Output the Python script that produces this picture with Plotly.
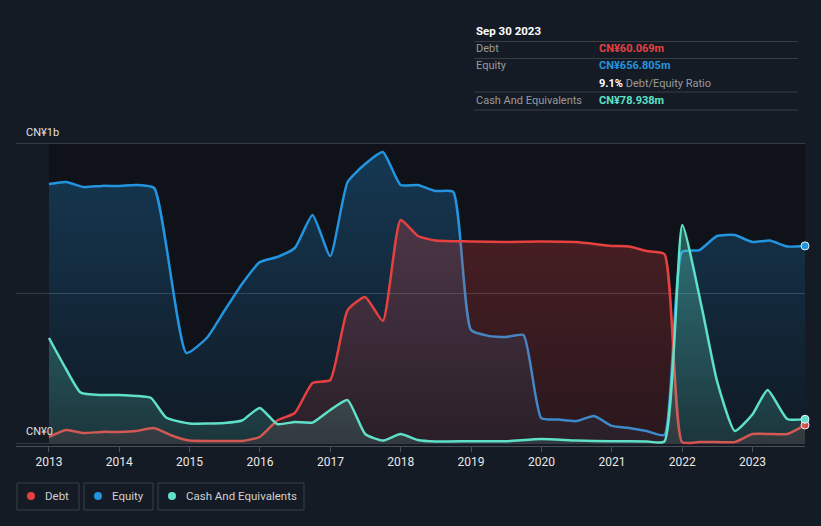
import plotly.graph_objects as go

# ---- data (values in CN¥ millions) ----
equity_dates = ["2013-01-01","2013-03-31","2013-06-30","2013-09-30","2013-12-31","2014-03-31","2014-07-01",
                "2014-12-15","2015-03-31","2015-06-30","2015-09-30","2015-12-31",
                "2016-03-31","2016-06-30","2016-09-30","2016-12-31","2017-03-31","2017-06-30","2017-09-30",
                "2017-12-31","2018-03-31","2018-06-30","2018-09-30","2018-12-31","2019-03-31","2019-06-30",
                "2019-09-30","2019-12-31","2020-03-31","2020-06-30","2020-09-30","2020-12-31","2021-03-31",
                "2021-06-30","2021-09-30","2021-12-31","2022-03-31","2022-06-30","2022-09-30","2022-12-31",
                "2023-03-31","2023-06-30","2023-09-30"]
equity_values = [863, 870, 853, 857, 857, 860, 850,
                 300, 350, 440, 530, 603,
                 620, 650, 760, 623, 870, 930, 970,
                 860, 860, 840, 837, 377, 357, 353,
                 360, 83, 78, 73, 90, 57, 50,
                 40, 27, 637, 643, 690, 693, 670,
                 675, 655, 657]

debt_dates = ["2013-01-01","2013-03-31","2013-06-30","2013-09-30","2013-12-31","2014-03-31","2014-06-30",
              "2014-09-30","2014-12-31","2015-06-30","2015-09-30","2015-12-31","2016-03-31","2016-06-30",
              "2016-09-30","2016-12-31","2017-03-31","2017-06-30","2017-09-30","2017-12-31","2018-03-31",
              "2018-06-30","2018-12-31","2019-06-30","2019-12-31","2020-06-30","2020-12-31","2021-03-31",
              "2021-06-30","2021-09-30","2021-12-31","2022-03-31","2022-06-30","2022-09-30","2022-12-31",
              "2023-03-31","2023-06-30","2023-09-30"]
debt_values = [20, 43, 33, 37, 37, 40, 50,
               25, 8, 7, 7, 20, 75, 100,
               200, 210, 443, 487, 407, 743, 690,
               675, 672, 670, 672, 670, 657, 655,
               640, 630, 3, 3, 3, 3, 30,
               30, 30, 60]

cash_dates = ["2013-01-01","2013-04-01","2013-06-15","2013-09-30","2013-12-31","2014-03-31","2014-06-15",
              "2014-09-01","2014-12-31","2015-06-30","2015-09-30","2015-12-31","2016-03-31","2016-06-30",
              "2016-09-30","2016-12-31","2017-03-31","2017-06-30","2017-09-30","2017-12-31","2018-03-31",
              "2018-06-30","2018-12-31","2019-06-30","2019-12-31","2020-06-30","2020-12-31","2021-06-30",
              "2021-09-30","2022-01-01","2022-04-15","2022-07-01","2022-10-01","2022-12-31","2023-03-20",
              "2023-06-30","2023-09-30"]
cash_values = [350, 245, 168, 160, 160, 157, 150,
               85, 65, 67, 75, 117, 63, 70,
               68, 110, 143, 30, 8, 30, 10,
               5, 6, 6, 13, 8, 6, 5,
               5, 727, 443, 205, 40, 95, 177,
               80, 79]

x_ticks = ["2013","2014","2015","2016","2017","2018","2019","2020","2021","2022","2023"]

# ---- styling ----
BG = "#151b25"
PLOT = "#0f1218"
RED = "#e64141"
BLUE = "#2394df"
TEAL = "#5fe0c8"

W, H = 821, 526
ML, MR, MT, MB = 16, 16, 140, 80
PW, PH = W - ML - MR, H - MT - MB

def px(x):
    return (x - ML) / PW

def py(y):
    return (H - MB - y) / PH

fig = go.Figure()

fig.add_shape(type="rect", xref="x", yref="y", x0="2013-01-01", x1="2023-09-30", y0=0, y1=1000,
              fillcolor=PLOT, line_width=0, layer="below")

def area(dates, vals, color, rgb, a0, a1, name, lw=2.5):
    fig.add_trace(go.Scatter(
        x=dates, y=vals, name=name, mode="lines",
        line=dict(color=color, width=lw, shape="spline", smoothing=0.5),
        fill="tozeroy",
        fillgradient=dict(type="vertical", start=0, stop=1000,
                          colorscale=[[0, f"rgba({rgb},{a0})"], [1, f"rgba({rgb},{a1})"]]),
        hoverinfo="skip", showlegend=False))
    fig.add_trace(go.Scatter(
        x=[dates[-1]], y=[vals[-1]], mode="markers",
        marker=dict(color=color, size=8, line=dict(color="#e8f4ff", width=1)),
        cliponaxis=False, hoverinfo="skip", showlegend=False))

area(equity_dates, equity_values, BLUE, "35,148,223", 0.06, 0.30, "Equity")
area(debt_dates, debt_values, RED, "230,65,65", 0.12, 0.32, "Debt")
area(cash_dates, cash_values, TEAL, "95,224,200", 0.14, 0.45, "Cash And Equivalents")

# ---- tooltip box ----
shapes = []
annotations = []
shapes.append(dict(type="rect", xref="paper", yref="paper", x0=px(467), x1=px(806), y0=py(16), y1=py(118),
                   fillcolor="#000000", line_width=0, layer="above"))
for ly in [41.5, 58.5, 92, 110]:
    shapes.append(dict(type="line", xref="paper", yref="paper", x0=px(474), x1=px(798), y0=py(ly), y1=py(ly),
                       line=dict(color="#3a3d42", width=1), layer="above"))

def txt(x, y, s, color, size=11, anchor="left"):
    annotations.append(dict(xref="paper", yref="paper", x=px(x), y=py(y), text=s, showarrow=False,
                            xanchor=anchor, yanchor="middle", font=dict(color=color, size=size,
                            family="Roboto, sans-serif")))

txt(474, 31, "<b>Sep 30 2023</b>", "#ffffff", 11.5)
txt(474, 49, "Debt", "#9a9a9a")
txt(597, 49, "<b>CN¥60.069m</b>", RED)
txt(474, 66, "Equity", "#9a9a9a")
txt(597, 66, "<b>CN¥656.805m</b>", BLUE)
txt(597, 83, "<b>9.1%</b> <span style='color:#9a9a9a'>Debt/Equity Ratio</span>", "#ffffff")
txt(474, 100, "Cash And Equivalents", "#9a9a9a")
txt(597, 100, "<b>CN¥78.938m</b>", TEAL)

# y labels
txt(24, 132, "CN¥1b", "#e0e0e0", 11)
txt(24, 431, "CN¥0", "#e0e0e0", 11)

# ---- legend boxes ----
legend_items = [("Debt", RED, 17, 79), ("Equity", BLUE, 84, 153), ("Cash And Equivalents", TEAL, 158, 304)]
for name, col, x0, x1 in legend_items:
    shapes.append(dict(type="rect", xref="paper", yref="paper", x0=px(x0), x1=px(x1), y0=py(483), y1=py(510),
                       line=dict(color="#3a404a", width=1), fillcolor="rgba(0,0,0,0)"))
    shapes.append(dict(type="circle", xref="paper", yref="paper", x0=px(x0 + 10), x1=px(x0 + 18),
                       y0=py(492), y1=py(500), fillcolor=col, line_width=0))
    txt(x0 + 26, 496, name, "#d0d0d0", 11.5)

fig.update_layout(
    width=W, height=H, margin=dict(l=ML, r=MR, t=MT, b=MB),
    paper_bgcolor=BG, plot_bgcolor=BG, showlegend=False,
    shapes=shapes, annotations=annotations,
    xaxis=dict(type="date", range=["2012-07-14", "2023-09-30"],
               tickvals=[f"{t}-01-01" for t in x_ticks], ticktext=x_ticks,
               showgrid=False, zeroline=False, showline=True, linecolor="#4a4f57", linewidth=1,
               ticks="outside", ticklen=5, tickcolor="#4a4f57",
               tickfont=dict(color="#e8e8e8", size=12, family="Roboto, sans-serif")),
    yaxis=dict(range=[-10, 1010], tickvals=[0, 500, 1000], showticklabels=False,
               showgrid=True, gridcolor="#353a43", gridwidth=1, zeroline=False, fixedrange=True),
)

fig.write_html("out.html", config={"displayModeBar": False},
               post_script="document.body.style.margin='0';document.body.style.background='#151b25';")
